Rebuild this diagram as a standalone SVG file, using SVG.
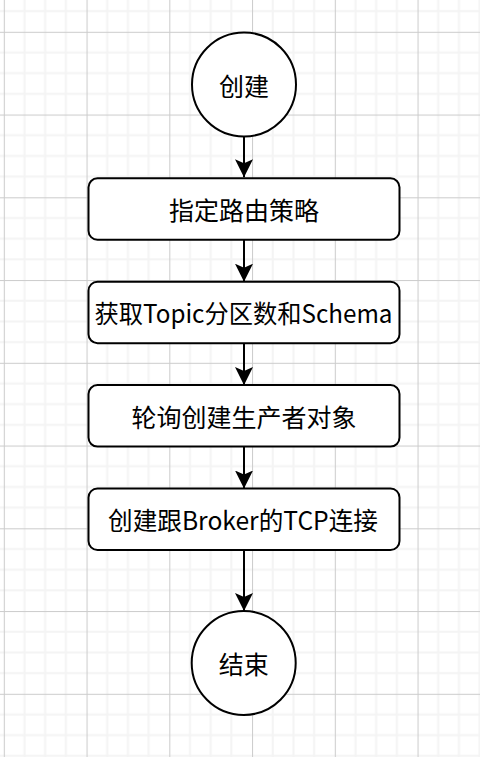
<svg xmlns="http://www.w3.org/2000/svg" width="480" height="757" viewBox="0 0 480 757">
  <defs>
    <pattern id="grid" patternUnits="userSpaceOnUse" x="3.8" y="31.8" width="82.75" height="82.75">
      <rect x="0" y="0" width="82.75" height="82.75" fill="#ffffff"/>
      <rect x="19.69" y="0" width="2" height="82.75" fill="#f4f4f4"/>
      <rect x="40.375" y="0" width="2" height="82.75" fill="#f4f4f4"/>
      <rect x="61.06" y="0" width="2" height="82.75" fill="#f4f4f4"/>
      <rect x="0" y="19.69" width="82.75" height="2" fill="#f4f4f4"/>
      <rect x="0" y="40.375" width="82.75" height="2" fill="#f4f4f4"/>
      <rect x="0" y="61.06" width="82.75" height="2" fill="#f4f4f4"/>
      <rect x="0" y="0" width="1" height="82.75" fill="#cccccc"/>
      <rect x="0" y="0" width="82.75" height="1" fill="#cccccc"/>
    </pattern>
    <marker id="arrow" markerUnits="userSpaceOnUse" viewBox="0 0 18 18" refX="18" refY="9" markerWidth="18" markerHeight="18" orient="auto">
      <path d="M0,0 L18,9 L0,18 L4,9 Z" fill="#000000"/>
    </marker>
  </defs>
  <style>
    .node { fill: #ffffff; stroke: #000000; stroke-width: 2; }
    .label { font-family: "Noto Sans CJK SC", "Noto Sans", sans-serif; font-size: 25px; fill: #000000; text-anchor: middle; dominant-baseline: central; }
    .edge { stroke: #000000; stroke-width: 2; fill: none; marker-end: url(#arrow); }
  </style>
  <rect x="0" y="0" width="480" height="757" fill="url(#grid)"/>

  <g id="connectors">
    <line class="edge" x1="244" y1="136.5" x2="244" y2="177.3"/>
    <line class="edge" x1="244" y1="239.8" x2="244" y2="281.7"/>
    <line class="edge" x1="244" y1="343.2" x2="244" y2="385.1"/>
    <line class="edge" x1="244" y1="446.6" x2="244" y2="488.5"/>
    <line class="edge" x1="244" y1="550" x2="244" y2="611"/>
  </g>

  <g id="start">
    <circle class="node" cx="244" cy="84.5" r="52"/>
    <text class="label" x="244" y="84.5">创建</text>
  </g>
  <g id="step1">
    <rect class="node" x="88.5" y="178.3" width="311" height="61.5" rx="9" ry="9"/>
    <text class="label" x="244" y="209">指定路由策略</text>
  </g>
  <g id="step2">
    <rect class="node" x="88.5" y="281.7" width="311" height="61.5" rx="9" ry="9"/>
    <text class="label" x="243.5" y="312.4" textLength="298" lengthAdjust="spacingAndGlyphs">获取Topic分区数和Schema</text>
  </g>
  <g id="step3">
    <rect class="node" x="88.5" y="385.1" width="311" height="61.5" rx="9" ry="9"/>
    <text class="label" x="244" y="415.8">轮询创建生产者对象</text>
  </g>
  <g id="step4">
    <rect class="node" x="88.5" y="488.5" width="311" height="61.5" rx="9" ry="9"/>
    <text class="label" x="243" y="519.2" textLength="270" lengthAdjust="spacingAndGlyphs">创建跟Broker的TCP连接</text>
  </g>
  <g id="end">
    <circle class="node" cx="243.7" cy="663" r="52"/>
    <text class="label" x="243.7" y="663">结束</text>
  </g>
</svg>
